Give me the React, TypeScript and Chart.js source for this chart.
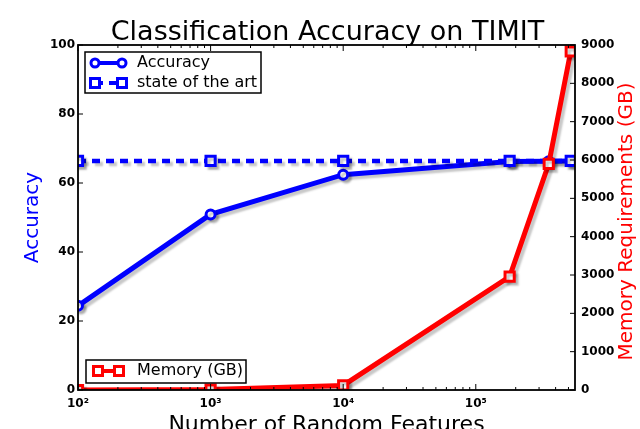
import React, { useEffect, useRef } from 'react';
import { Chart, registerables } from 'chart.js';

Chart.register(...registerables);

// ---- data ----
const features = [100, 1000, 10000, 180000, 355000, 520000];
const accuracy = [24.4, 50.9, 62.4, 66.2, 66.3, 66.4];
const sotaFeatures = [100, 1000, 10000, 180000, 520000];
const sotaAccuracy = [66.4, 66.4, 66.4, 66.4, 66.4];
const memoryGB = [0, 10, 120, 2960, 5900, 8830];

const xMin = 100;
const xMax = 560000;
const xMajorTicks = [100, 1000, 10000, 100000];
const xTickLabels = ['10²', '10³', '10⁴', '10⁵'];
const accTicks = [0, 20, 40, 60, 80, 100];
const memTicks = [0, 1000, 2000, 3000, 4000, 5000, 6000, 7000, 8000, 9000];

const titleText = 'Classification Accuracy on TIMIT';
const xTitle = 'Number of Random Features';
const accTitle = 'Accuracy';
const memTitle = 'Memory Requirements (GB)';
const legendAcc = 'Accuracy';
const legendSota = 'state of the art';
const legendMem = 'Memory (GB)';

const FONT = "'DejaVu Sans'";
const BLUE = '#0000ff';
const RED = '#ff0000';

export default function App() {
  const ref = useRef<HTMLCanvasElement>(null);

  useEffect(() => {
    document.body.style.margin = '0';
    const canvas = ref.current;
    if (!canvas) return;

    const decor = {
      id: 'decor',
      beforeDatasetsDraw(chart: any) {
        const c = chart.ctx;
        c.save();
        c.shadowColor = 'rgba(0,0,0,0.22)';
        c.shadowOffsetX = 3;
        c.shadowOffsetY = 3;
        c.shadowBlur = 2;
      },
      afterDatasetsDraw(chart: any) {
        const c = chart.ctx;
        c.restore();
        const { left, right, top, bottom } = chart.chartArea;
        const xs = chart.scales.x;
        const ya = chart.scales.yAcc;
        const ym = chart.scales.yMem;
        c.save();
        const line = (x1: number, y1: number, x2: number, y2: number) => {
          c.beginPath();
          c.moveTo(x1, y1);
          c.lineTo(x2, y2);
          c.stroke();
        };
        // frame
        c.strokeStyle = '#000';
        c.lineWidth = 1.8;
        c.strokeRect(left, top, right - left, bottom - top);
        // x ticks (inward, top & bottom)
        c.lineWidth = 1;
        for (let e = 2; e <= 5; e++) {
          for (let m = 1; m <= 9; m++) {
            const v = m * Math.pow(10, e);
            if (v < xMin || v > xMax) continue;
            const px = xs.getPixelForValue(v);
            const len = m === 1 ? 6 : 3;
            line(px, bottom, px, bottom - len);
            line(px, top, px, top + len);
          }
        }
        accTicks.forEach((v) => {
          const py = ya.getPixelForValue(v);
          line(left, py, left + 5, py);
        });
        memTicks.forEach((v) => {
          const py = ym.getPixelForValue(v);
          line(right, py, right - 5, py);
        });

        // title
        c.fillStyle = '#000';
        c.font = `27px ${FONT}`;
        c.textAlign = 'center';
        c.textBaseline = 'alphabetic';
        c.fillText(titleText, (left + right) / 2 + 1, top - 5);

        // right axis title (reads bottom to top)
        c.save();
        c.translate(right + 52, (top + bottom) / 2 + 4);
        c.rotate(-Math.PI / 2);
        c.fillStyle = RED;
        c.font = `20px ${FONT}`;
        c.textAlign = 'center';
        c.textBaseline = 'middle';
        c.fillText(memTitle, 0, 0);
        c.restore();

        // legend helpers
        const circle = (x: number, y: number, color: string) => {
          c.beginPath();
          c.arc(x, y, 4, 0, Math.PI * 2);
          c.fillStyle = '#fff';
          c.fill();
          c.lineWidth = 3;
          c.strokeStyle = color;
          c.stroke();
        };
        const square = (x: number, y: number, color: string) => {
          c.fillStyle = '#fff';
          c.fillRect(x - 4.5, y - 4.5, 9, 9);
          c.lineWidth = 3;
          c.strokeStyle = color;
          c.strokeRect(x - 4.5, y - 4.5, 9, 9);
        };
        const box = (x: number, y: number, w: number, h: number) => {
          c.fillStyle = '#fff';
          c.fillRect(x, y, w, h);
          c.lineWidth = 1.5;
          c.strokeStyle = '#000';
          c.strokeRect(x, y, w, h);
        };
        const label = (t: string, x: number, y: number) => {
          c.fillStyle = '#000';
          c.font = `16px ${FONT}`;
          c.textAlign = 'left';
          c.textBaseline = 'middle';
          c.fillText(t, x, y);
        };

        // legend 1
        box(left + 7, top + 7, 176, 41);
        const r1 = top + 18;
        const r2 = top + 38;
        const m1 = left + 17;
        const m2 = left + 44;
        c.strokeStyle = BLUE;
        c.lineWidth = 4;
        line(m1, r1, m2, r1);
        circle(m1, r1, BLUE);
        circle(m2, r1, BLUE);
        label(legendAcc, left + 59, r1);
        c.strokeStyle = BLUE;
        c.lineWidth = 4;
        c.setLineDash([8, 6]);
        line(m1, r2, m2, r2);
        c.setLineDash([]);
        square(m1, r2, BLUE);
        square(m2, r2, BLUE);
        label(legendSota, left + 59, r2);

        // legend 2
        box(left + 8, bottom - 30, 160, 23);
        const r3 = bottom - 19;
        const m3 = left + 20;
        const m4 = left + 41;
        c.strokeStyle = RED;
        c.lineWidth = 4;
        line(m3, r3, m4, r3);
        square(m3, r3, RED);
        square(m4, r3, RED);
        label(legendMem, left + 59, r3);

        c.restore();
      },
    };

    const tickFont = { family: FONT, weight: 'bold' as const, size: 12 };

    const chart = new Chart(canvas, {
      type: 'line',
      data: {
        datasets: [
          {
            label: legendMem,
            data: features.map((f, i) => ({ x: f, y: memoryGB[i] })),
            yAxisID: 'yMem',
            borderColor: RED,
            backgroundColor: RED,
            borderWidth: 5,
            pointStyle: 'rect',
            pointRadius: 6.5,
            pointBorderWidth: 3,
            pointBackgroundColor: '#fff',
            pointBorderColor: RED,
            order: 0,
            clip: 0,
          },
          {
            label: legendSota,
            data: sotaFeatures.map((f, i) => ({ x: f, y: sotaAccuracy[i] })),
            yAxisID: 'yAcc',
            borderColor: BLUE,
            backgroundColor: BLUE,
            borderWidth: 4.5,
            borderDash: [8, 6],
            pointStyle: 'rect',
            pointRadius: 6.5,
            pointBorderWidth: 3,
            pointBackgroundColor: '#fff',
            pointBorderColor: BLUE,
            order: 1,
            clip: 0,
          },
          {
            label: legendAcc,
            data: features.map((f, i) => ({ x: f, y: accuracy[i] })),
            yAxisID: 'yAcc',
            borderColor: BLUE,
            backgroundColor: BLUE,
            borderWidth: 5,
            pointStyle: 'circle',
            pointRadius: 4.5,
            pointBorderWidth: 3,
            pointBackgroundColor: '#fff',
            pointBorderColor: BLUE,
            order: 2,
            clip: 0,
          },
        ],
      },
      options: {
        animation: false,
        responsive: false,
        maintainAspectRatio: false,
        layout: { padding: { top: 45, left: 0, right: 0, bottom: 0 } },
        plugins: {
          legend: { display: false },
          tooltip: { enabled: false },
          title: { display: false },
        },
        scales: {
          x: {
            type: 'logarithmic',
            position: 'bottom',
            min: xMin,
            max: xMax,
            grid: { display: false, drawTicks: false },
            border: { display: false },
            ticks: {
              autoSkip: false,
              maxRotation: 0,
              padding: 7,
              color: '#000',
              font: tickFont,
              callback: (v: any) => {
                const i = xMajorTicks.findIndex(
                  (t) => Math.abs(Math.log10(Number(v)) - Math.log10(t)) < 1e-6
                );
                return i >= 0 ? xTickLabels[i] : '';
              },
            },
            title: {
              display: true,
              text: xTitle,
              color: '#000',
              font: { family: FONT, size: 22 },
              padding: { top: 0, bottom: -9 },
            },
            afterFit: (s: any) => {
              s.height = 39;
            },
          },
          yAcc: {
            position: 'left',
            min: 0,
            max: 100,
            grid: { display: false, drawTicks: false },
            border: { display: false },
            ticks: { stepSize: 20, padding: 3, color: '#000', font: tickFont },
            title: {
              display: true,
              text: accTitle,
              color: BLUE,
              font: { family: FONT, size: 20 },
              padding: { top: 21, bottom: 0 },
            },
            afterFit: (s: any) => {
              s.width = 78;
            },
          },
          yMem: {
            position: 'right',
            min: 0,
            max: 9000,
            grid: { display: false, drawTicks: false },
            border: { display: false },
            ticks: {
              stepSize: 1000,
              padding: 6,
              color: '#000',
              font: tickFont,
              callback: (v: any) => String(v),
            },
            title: { display: false },
            afterFit: (s: any) => {
              s.width = 65;
            },
          },
        },
      },
      plugins: [decor],
    } as any);

    return () => chart.destroy();
  }, []);

  return (
    <div style={{ width: 640, height: 429, overflow: 'hidden' }}>
      <canvas ref={ref} width={640} height={429} style={{ display: 'block' }} />
    </div>
  );
}
